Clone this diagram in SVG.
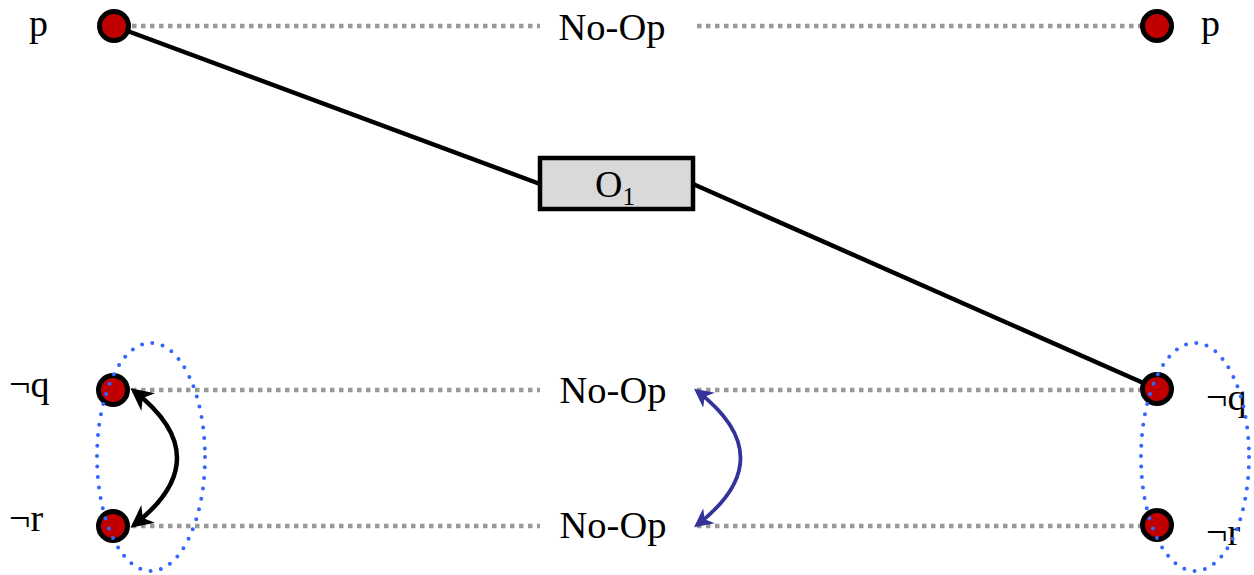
<svg xmlns="http://www.w3.org/2000/svg" width="1254" height="575" viewBox="0 0 1254 575">
<defs>
<style>
.lbl{font-family:"Liberation Serif","DejaVu Serif",serif;font-size:38px;fill:#000}
.noop{stroke:#999;stroke-width:4.5;stroke-dasharray:4.5 4.5;fill:none}
.node{fill:#c00000;stroke:#000;stroke-width:5}
.grp{fill:none;stroke:#3366ff;stroke-width:4;stroke-dasharray:0 10.5;stroke-linecap:round}
.edge{fill:none;stroke:#000;stroke-width:4.5}
</style>
<marker id="ahb" viewBox="0 0 10 10" refX="8" refY="5" markerWidth="5" markerHeight="5" orient="auto-start-reverse" markerUnits="strokeWidth">
<path d="M0,0 L10,5 L0,10 L3,5 z" fill="#000"/>
</marker>
<marker id="ahu" viewBox="0 0 10 10" refX="8" refY="5" markerWidth="5" markerHeight="5" orient="auto-start-reverse" markerUnits="strokeWidth">
<path d="M0,0 L10,5 L0,10 L3,5 z" fill="#333399"/>
</marker>
</defs>
<rect width="1254" height="575" fill="#fff"/>
<g id="connectors">
<line class="noop" x1="132" y1="26" x2="540" y2="26"/>
<line class="noop" x1="697" y1="26" x2="1140" y2="26"/>
<line class="noop" x1="132" y1="390" x2="540" y2="390"/>
<line class="noop" x1="697" y1="390" x2="1140" y2="390"/>
<line class="noop" x1="132" y1="526" x2="540" y2="526"/>
<line class="noop" x1="697" y1="526" x2="1140" y2="526"/>
<line class="edge" x1="114" y1="26" x2="540" y2="184"/>
<line class="edge" x1="693" y1="184" x2="1157" y2="389"/>
<path class="edge" d="M134,391 Q220,458 134,525" stroke-width="3.8" marker-start="url(#ahb)" marker-end="url(#ahb)"/>
<path d="M697,391 Q784,458 697,525" fill="none" stroke="#333399" stroke-width="3.8" marker-start="url(#ahu)" marker-end="url(#ahu)"/>
</g>
<g id="noop-top"><text class="lbl" x="612" y="40" text-anchor="middle" textLength="107" lengthAdjust="spacingAndGlyphs">No-Op</text></g>
<g id="noop-q"><text class="lbl" x="613" y="403" text-anchor="middle" textLength="107" lengthAdjust="spacingAndGlyphs">No-Op</text></g>
<g id="noop-r"><text class="lbl" x="613" y="538" text-anchor="middle" textLength="107" lengthAdjust="spacingAndGlyphs">No-Op</text></g>
<g id="O1">
<rect x="540" y="158" width="153" height="51" fill="#d9d9d9" stroke="#000" stroke-width="4.5"/>
<text class="lbl" x="595" y="197">O<tspan font-size="25" dy="8">1</tspan></text>
</g>
<g id="p-left"><circle class="node" cx="114" cy="26" r="14.5"/><text class="lbl" x="29" y="36">p</text></g>
<g id="p-right"><circle class="node" cx="1157" cy="26" r="14.5"/><text class="lbl" x="1201" y="36">p</text></g>
<g id="nq-left"><circle class="node" cx="113" cy="390" r="14.5"/><text class="lbl" x="9" y="397">¬q</text></g>
<g id="nr-left"><circle class="node" cx="113" cy="526" r="14.5"/><text class="lbl" x="9" y="531">¬r</text></g>
<g id="nq-right"><circle class="node" cx="1157" cy="389" r="14.5"/><text class="lbl" x="1206" y="410">¬q</text></g>
<g id="nr-right"><circle class="node" cx="1157" cy="525" r="14.5"/><text class="lbl" x="1206" y="545">¬r</text></g>
<g id="group-left"><ellipse class="grp" cx="151" cy="457" rx="54" ry="114"/></g>
<g id="group-right"><ellipse class="grp" cx="1195" cy="457" rx="54" ry="114"/></g>
</svg>
